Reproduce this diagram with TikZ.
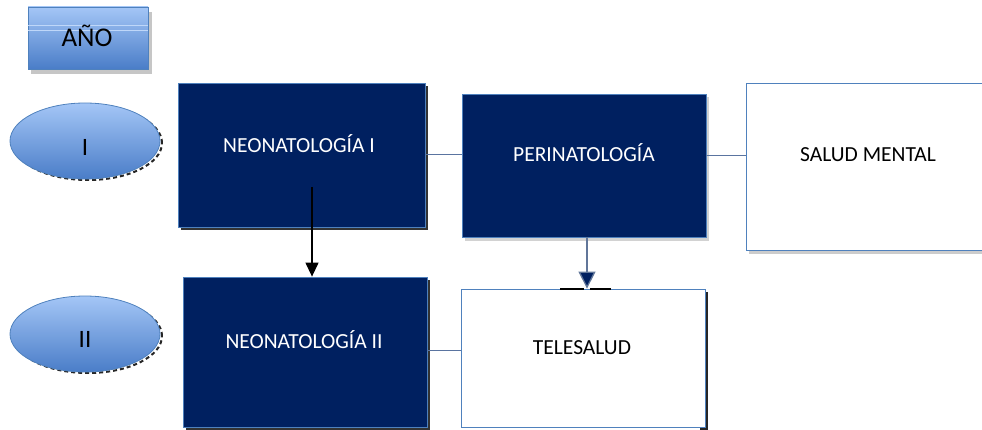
\documentclass[tikz,border=0pt]{standalone}
\usepackage{fontspec}
\setmainfont{Carlito}
\usetikzlibrary{shapes.geometric,arrows.meta}
\definecolor{navy}{HTML}{002060}
\definecolor{edgeblue}{HTML}{4F81BD}
\definecolor{gtop}{HTML}{A4C6F6}
\definecolor{gbot}{HTML}{4A7DC8}
\definecolor{linkc}{HTML}{5A74A0}
\tikzset{
  darkbox/.style={draw=edgeblue, line width=0.8pt, fill=navy, rectangle, inner sep=0pt},
  whitebox/.style={draw=edgeblue, line width=0.8pt, fill=white, rectangle, inner sep=0pt},
  yearoval/.style={ellipse, draw=edgeblue, line width=0.8pt, top color=gtop, bottom color=gbot, minimum width=150pt, minimum height=76pt, inner sep=0pt},
  ovaltxt/.style={anchor=base, font=\fontsize{25}{27}\selectfont},
  wtxt/.style={anchor=base, text=white, font=\fontsize{21.5}{24}\selectfont},
  btxt/.style={anchor=base, text=black, font=\fontsize{21.5}{24}\selectfont},
  ovalshadow/.style={draw=black!85, line width=2pt, dash pattern=on 4pt off 3pt},
  link/.style={draw=linkc, line width=0.9pt},
}
\begin{document}
\begin{tikzpicture}[x=1pt,y=-1pt]
\useasboundingbox (0,0) rectangle (982,430);
% shadows
\fill[gray!45] (31,12) rectangle (152,74);
\draw[ovalshadow] (88,143) ellipse [x radius=74pt, y radius=37pt];
\draw[ovalshadow] (88,336) ellipse [x radius=74pt, y radius=37pt];
\fill[black!80] (181,86) rectangle (428,230);
\fill[black!80] (186,280) rectangle (430,430);
\fill[black!85] (700,292) rectangle (708,430);
\fill[gray!35] (465,97) rectangle (709,241);
\fill[gray!40] (749,86) rectangle (990,254);
% year header
\node[draw=edgeblue, line width=0.8pt, top color=gtop, bottom color=gbot, minimum width=120pt, minimum height=62pt, inner sep=0pt] (ano) at (88,38) {};
\draw[gtop!70!white, line width=1pt] (ano.west |- 0,26) -- (ano.east |- 0,26) (ano.west |- 0,31) -- (ano.east |- 0,31);
\node[anchor=base, font=\fontsize{27}{29}\selectfont] (anot) at (87,47) {AÑO};
% ovals
\node[yearoval] (y1) at (85,141) {};
\node[yearoval] (y2) at (85,334) {};
\node[ovaltxt] (y1t) at (85,155.5) {I};
\node[ovaltxt] (y2t) at (85,347.5) {II};
% boxes
\node[darkbox, minimum width=247pt, minimum height=144pt] (neo1) at (301.5,155) {};
\node[darkbox, minimum width=244pt, minimum height=143pt] (peri) at (584,165.5) {};
\node[whitebox, minimum width=244pt, minimum height=167pt] (salud) at (868,166.5) {};
\node[darkbox, minimum width=244pt, minimum height=150pt] (neo2) at (305,352) {};
\node[whitebox, minimum width=244pt, minimum height=138pt] (tele) at (583,358) {};
% texts
\node[wtxt] (neo1t) at (299,153) {NEONATOLOGÍA I};
\node[wtxt] (perit) at (584,162) {PERINATOLOGÍA};
\node[btxt] (saludt) at (868,162) {SALUD MENTAL};
\node[wtxt] (neo2t) at (304,348) {NEONATOLOGÍA II};
\node[btxt] (telet) at (582,354) {TELESALUD};
% connectors
\draw[link] (neo1.east |- 0,154) -- (peri.west |- 0,154);
\draw[link] (peri.east |- 0,155) -- (salud.west |- 0,155);
\draw[link] (neo2.east |- 0,350) -- (tele.west |- 0,350);
\coordinate (a1) at (312,187);
\draw[black, line width=1.3pt, -{Triangle[length=14pt, width=13pt]}] (a1) -- (neo2.north -| a1);
\draw[draw=linkc!80!gray, line width=1.3pt, -{Triangle[length=17pt, width=17pt, fill=navy]}] (peri.south -| 587,0) -- (tele.north -| 587,0);
\draw[black, line width=2pt] (560,289) -- (584,289) (590,289) -- (611,289);
\end{tikzpicture}
\end{document}
